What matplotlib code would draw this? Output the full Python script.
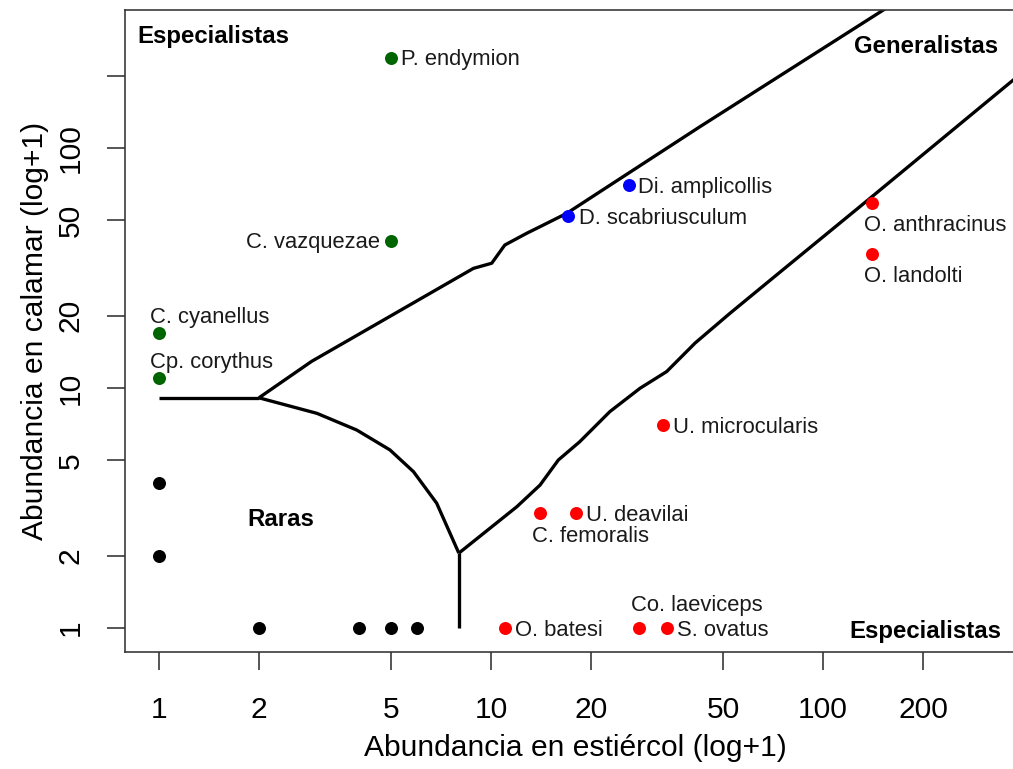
import matplotlib
matplotlib.use('Agg')
import matplotlib.pyplot as plt
from matplotlib.ticker import FixedLocator, FixedFormatter, NullLocator

plt.rcParams['font.family'] = ['Liberation Sans', 'DejaVu Sans']

# especies etiquetadas, abundancias ya sumadas +1
species = ['P. endymion', 'C. vazquezae', 'C. cyanellus', 'Cp. corythus',
           'Di. amplicollis', 'D. scabriusculum',
           'O. anthracinus', 'O. landolti', 'U. microcularis', 'C. femoralis',
           'U. deavilai', 'O. batesi', 'Co. laeviceps', 'S. ovatus']
dung = [5, 5, 1, 1, 26, 17, 140, 140, 33, 14, 18, 11, 28, 34]
squid = [237, 41, 17, 11, 70, 52, 59, 36, 7, 3, 3, 1, 1, 1]
group = ['calamar'] * 4 + ['generalista'] * 2 + ['estiercol'] * 8

# especies raras (sin etiqueta)
rare_dung = [1, 1, 2, 4, 5, 6]
rare_squid = [4, 2, 1, 1, 1, 1]

# limites del modelo CLAM
gen_x = [2, 2.88, 8.85, 10.05, 11.0, 12.8, 14.05, 16.9, 42.6, 152, 160]
gen_y = [9.1, 12.9, 31.5, 33.1, 39.4, 44.1, 47.0, 53.4, 122.7, 376, 394]
est_x = [8, 11.96, 14.05, 15.95, 18.5, 22.8, 28.1, 33.8, 41.2, 52.5, 72.5, 129, 374, 420]
est_y = [2.05, 3.2, 3.94, 5.01, 5.97, 7.97, 9.97, 11.7, 15.4, 20.5, 29.6, 56.9, 192, 219]
rare_x = [2, 2.99, 3.94, 4.96, 5.84, 6.86, 8]
rare_y = [9.1, 7.84, 6.68, 5.52, 4.48, 3.31, 2.05]
flat_x = [1, 2]
flat_y = [9.1, 9.1]
stem_x = [8, 8]
stem_y = [2.05, 1]

ticks = [1, 2, 5, 10, 20, 50, 100, 200]
xlabels = ['1', '2', '5', '10', '20', '50', '100', '200']
ylabels = ['1', '2', '5', '10', '20', '50', '100', '']

colors = {'calamar': '#006400', 'generalista': '#0000ff', 'estiercol': '#ff0000'}

# desplazamiento de cada etiqueta (pt) y alineacion
lab_dx = [10, -11, -9, -9, 9, 11, -8, -8, 10, -8, 10, 10, -8, 10]
lab_dy = [-7, -7, 10, 10, -8, -8, -28, -28, -8, -29, -8, -8, 17, -8]
lab_ha = ['left', 'right', 'left', 'left', 'left', 'left', 'left', 'left',
          'left', 'left', 'left', 'left', 'left', 'left']

fig = plt.figure(figsize=(1013 / 72, 769 / 72), dpi=72)
ax = fig.add_axes([125 / 1013, 117 / 769, 900 / 1013, 642 / 769])
ax.set_xscale('log')
ax.set_yscale('log')
ax.set_xlim(0.790, 405.7)
ax.set_ylim(0.794, 375.8)

for xs, ys in [(gen_x, gen_y), (est_x, est_y), (rare_x, rare_y),
               (flat_x, flat_y), (stem_x, stem_y)]:
    ax.plot(xs, ys, color='black', lw=3.3, solid_joinstyle='round',
            solid_capstyle='butt', zorder=2)

ax.plot(rare_dung, rare_squid, 'o', color='black', ms=13, mew=0, zorder=3)
for i, name in enumerate(species):
    ax.plot(dung[i], squid[i], 'o', color=colors[group[i]], ms=13, mew=0, zorder=3)
    ax.annotate(name, (dung[i], squid[i]), xytext=(lab_dx[i], lab_dy[i]),
                textcoords='offset points', ha=lab_ha[i], va='baseline',
                fontsize=22, color='#1a1a1a')

ax.text(0.0133, 0.949, 'Especialistas', transform=ax.transAxes, fontsize=24,
        fontweight='bold', va='baseline', ha='left')
ax.text(0.81, 0.9326, 'Generalistas', transform=ax.transAxes, fontsize=24,
        fontweight='bold', va='baseline', ha='left')
ax.text(0.8044, 0.0218, 'Especialistas', transform=ax.transAxes, fontsize=24,
        fontweight='bold', va='baseline', ha='left')
ax.text(0.1363, 0.1967, 'Raras', transform=ax.transAxes, fontsize=24,
        fontweight='bold', va='baseline', ha='left')

ax.xaxis.set_major_locator(FixedLocator(ticks))
ax.xaxis.set_major_formatter(FixedFormatter(xlabels))
ax.yaxis.set_major_locator(FixedLocator(ticks))
ax.yaxis.set_major_formatter(FixedFormatter(ylabels))
ax.xaxis.set_minor_locator(NullLocator())
ax.yaxis.set_minor_locator(NullLocator())
ax.tick_params(axis='both', length=18, width=1.5, labelsize=30, color='#222222')
ax.tick_params(axis='x', pad=26)
ax.tick_params(axis='y', pad=22, labelrotation=90)
for lab in ax.get_yticklabels():
    lab.set_va('center')

for sp in ax.spines.values():
    sp.set_linewidth(1.6)
    sp.set_color('#333333')

ax.set_xlabel('Abundancia en estiércol (log+1)', fontsize=30, labelpad=10)
ax.set_ylabel('Abundancia en calamar (log+1)', fontsize=30, labelpad=8)

fig.savefig('out.png', dpi=72)
